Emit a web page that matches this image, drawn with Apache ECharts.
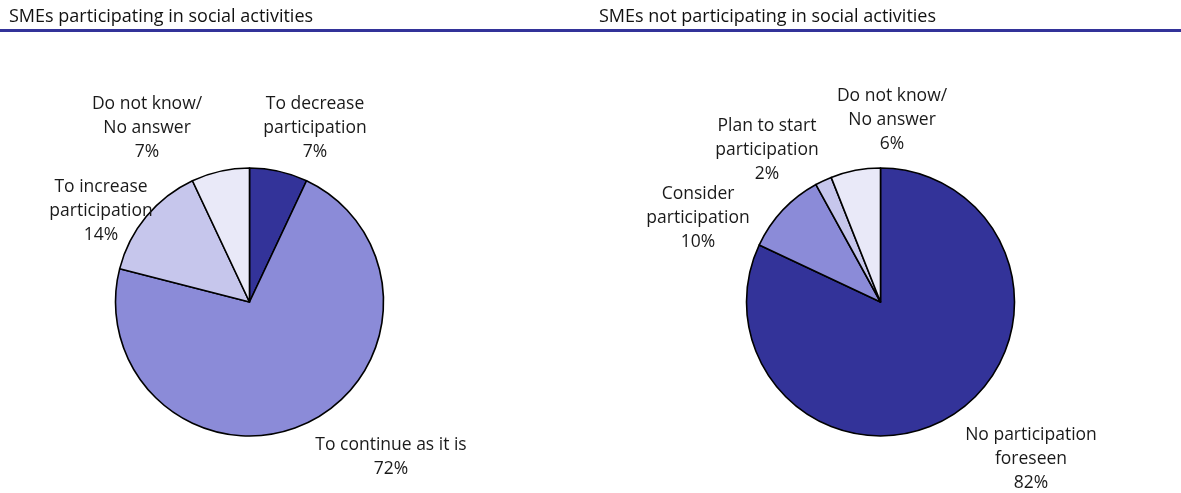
<!DOCTYPE html>
<html>
<head>
<meta charset="utf-8">
<script src="https://cdn.jsdelivr.net/npm/echarts@6/dist/echarts.min.js"></script>
<style>
  html, body { margin: 0; padding: 0; background: #fff; }
  #chart { width: 1181px; height: 493px; }
</style>
</head>
<body>
<div id="chart"></div>
<script>
// Survey shares, listed clockwise from 12 o'clock
const participatingLabels = ['To decrease\nparticipation', 'To continue as it is', 'To increase\nparticipation', 'Do not know/\nNo answer'];
const participatingValues = [7, 72, 14, 7];

const notParticipatingLabels = ['No participation\nforeseen', 'Consider\nparticipation', 'Plan to start\nparticipation', 'Do not know/\nNo answer'];
const notParticipatingValues = [82, 10, 2, 6];

const titles = ['SMEs participating in social activities', 'SMEs not participating in social activities'];

const sliceColors = ['#333399', '#8b8bd8', '#c6c6ec', '#e9e9f8'];

// Label anchor points (label block centres) for each slice
const labelSpots = [
  [[315, 128], [391, 457], [101, 211], [147, 128]],
  [[1031, 459], [698, 218], [767, 150], [892, 120]]
];

const FONT = '"Open Sans", "Noto Sans", sans-serif';

function toData(names, values, colors) {
  return names.map((n, i) => ({ name: n, value: values[i], itemStyle: { color: colors[i] } }));
}

function pieSeries(names, values, colors, cx) {
  return {
    type: 'pie',
    center: [cx, 302],
    radius: 134,
    startAngle: 90,
    clockwise: true,
    silent: true,
    animation: false,
    itemStyle: { borderColor: '#000', borderWidth: 1.6 },
    label: {
      show: true,
      position: 'outside',
      formatter: p => p.name + '\n' + p.value + '%',
      fontFamily: FONT,
      fontSize: 17.5,
      lineHeight: 24,
      color: '#1a1a1a',
      align: 'center',
      overflow: 'none',
      width: 220
    },
    labelLine: { show: false },
    labelLayout: function (params) {
      const spot = labelSpots[params.seriesIndex][params.dataIndex];
      return { x: spot[0], y: spot[1], align: 'center', verticalAlign: 'middle' };
    },
    data: toData(names, values, colors)
  };
}

const chart = echarts.init(document.getElementById('chart'), null, { renderer: 'canvas' });
chart.setOption({
  backgroundColor: '#fff',
  animation: false,
  title: [
    { text: titles[0], left: 4, top: 3, textStyle: { fontFamily: FONT, fontSize: 18, fontWeight: 'normal', color: '#111' } },
    { text: titles[1], left: 594, top: 3, textStyle: { fontFamily: FONT, fontSize: 18, fontWeight: 'normal', color: '#111' } }
  ],
  graphic: [
    { type: 'rect', shape: { x: 0, y: 29, width: 1181, height: 3 }, style: { fill: '#333399' }, silent: true }
  ],
  series: [
    pieSeries(participatingLabels, participatingValues, sliceColors, 249.5),
    pieSeries(notParticipatingLabels, notParticipatingValues, sliceColors, 880.5)
  ]
});
</script>
</body>
</html>
